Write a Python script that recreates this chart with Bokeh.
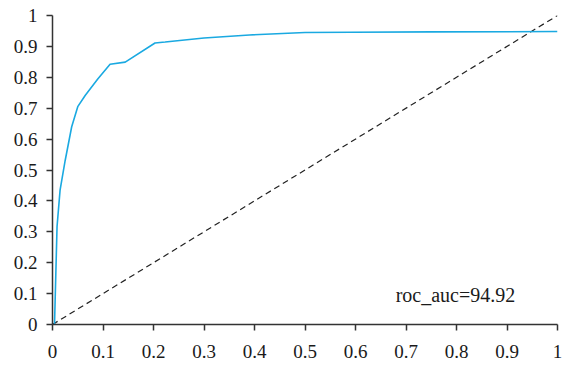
from bokeh.plotting import figure
from bokeh.models import Range1d, FixedTicker, CustomJSTickFormatter, Label
from bokeh.embed import file_html
from bokeh.resources import INLINE

fpr = [0.0, 0.004, 0.009, 0.015, 0.025, 0.038, 0.05, 0.065, 0.09, 0.114, 0.144, 0.203, 0.223, 0.3, 0.39, 0.5, 0.59, 0.75, 1.0]
tpr = [0.0, 0.0, 0.317, 0.435, 0.53, 0.64, 0.705, 0.742, 0.795, 0.842, 0.849, 0.911, 0.914, 0.927, 0.937, 0.945, 0.946, 0.947, 0.948]
diag_x = [0.0, 1.0]
diag_y = [0.0, 1.0]
ticks = [round(i * 0.1, 1) for i in range(11)]
auc_text = "roc_auc=94.92"

FONT = "Liberation Serif"

p = figure(width=562, height=360, output_backend="svg", toolbar_location=None,
           x_range=Range1d(0, 1), y_range=Range1d(0, 1),
           min_border_left=52, min_border_right=5, min_border_top=15, min_border_bottom=35)
p.outline_line_color = None
p.xgrid.visible = False
p.ygrid.visible = False

p.line(diag_x, diag_y, line_color="#222222", line_width=1.2, line_dash="6 4")
p.line(fpr, tpr, line_color="#1aa9e1", line_width=1.6)

fmt = CustomJSTickFormatter(code="return String(Math.round(tick*10)/10);")
for ax in (p.xaxis[0], p.yaxis[0]):
    ax.ticker = FixedTicker(ticks=ticks)
    ax.formatter = fmt
    ax.minor_tick_line_color = None
    ax.major_tick_out = 6
    ax.major_tick_in = 0
    ax.axis_line_color = "#333333"
    ax.axis_line_width = 1.5
    ax.major_tick_line_color = "#333333"
    ax.major_tick_line_width = 1.5
    ax.major_label_text_font = FONT
    ax.major_label_text_font_size = "19px"
    ax.major_label_text_color = "#1a1a1a"
p.xaxis[0].major_label_standoff = 14
p.yaxis[0].major_label_standoff = 9

p.add_layout(Label(x=0.798, y=0.097, text=auc_text, text_font=FONT, text_font_size="20px",
                   text_color="#1a1a1a", text_align="center", text_baseline="middle"))

open("out.html", "w").write(file_html(p, INLINE))
